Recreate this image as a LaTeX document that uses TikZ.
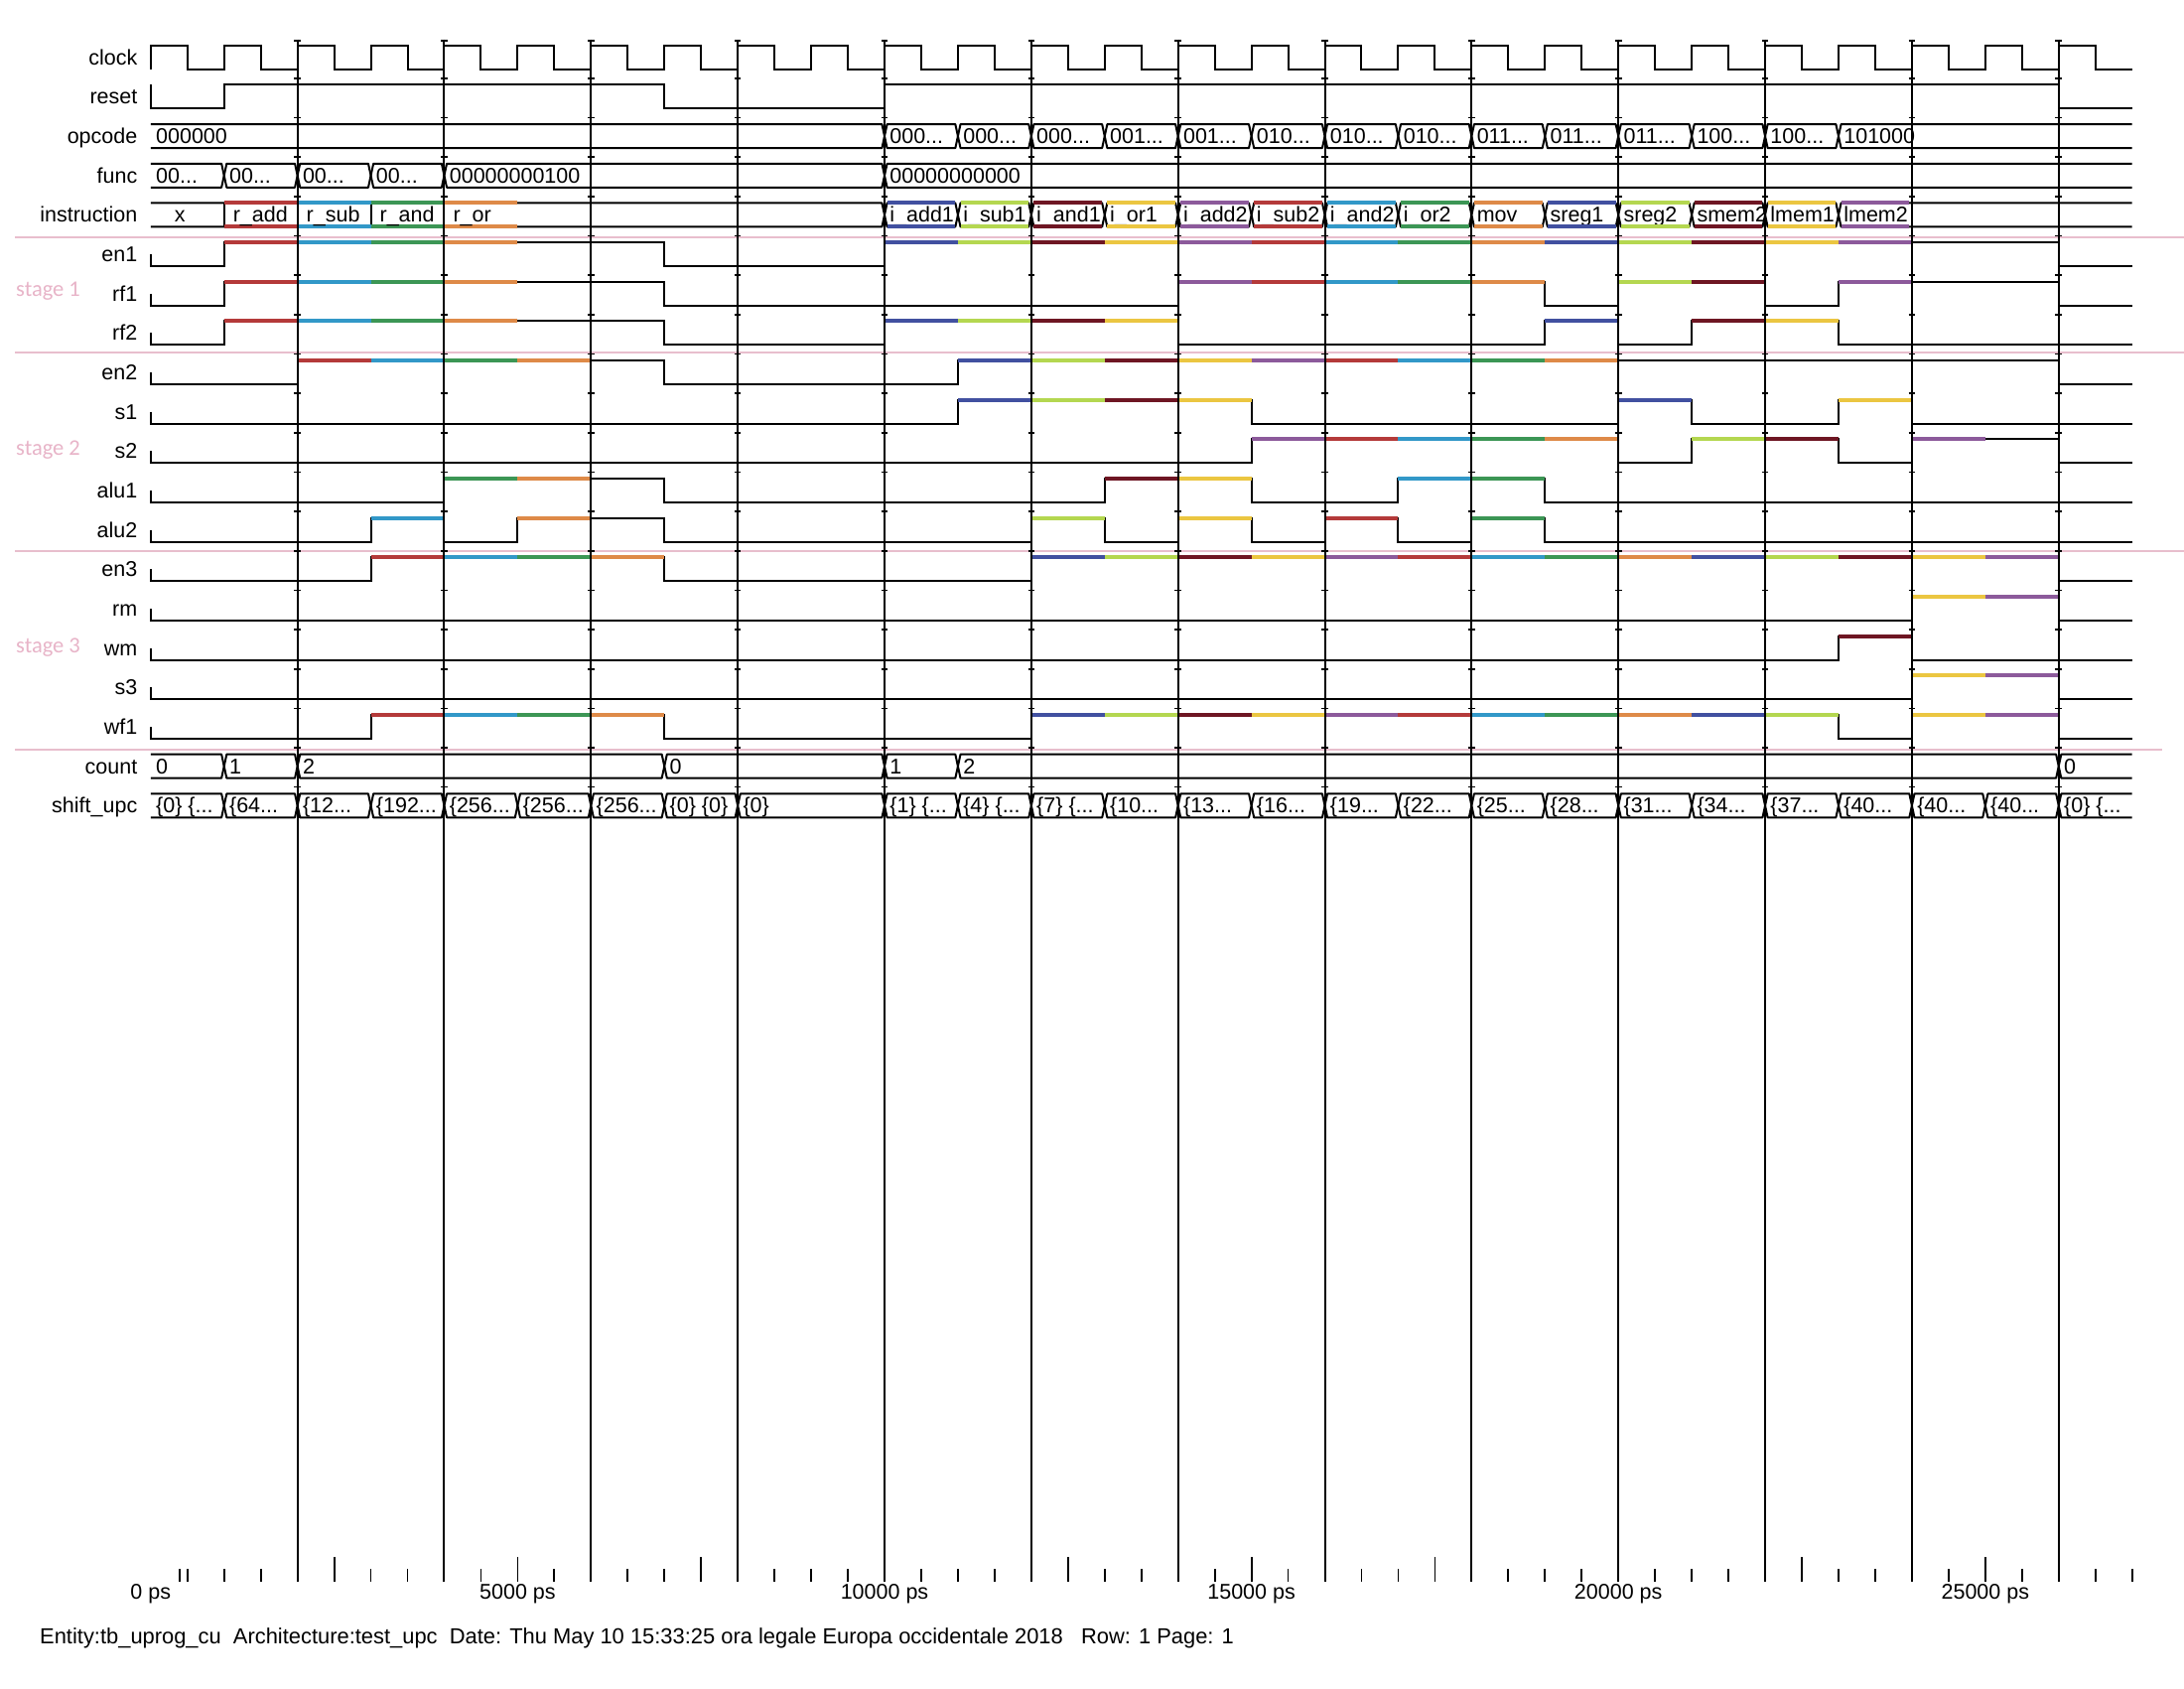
\documentclass[tikz,border=0pt]{standalone}
\usepackage{fontspec}
\setmainfont{Liberation Sans}
\newfontfamily\stgf{Carlito}
\definecolor{cR}{RGB}{180,58,58}
\definecolor{cC}{RGB}{50,152,200}
\definecolor{cG}{RGB}{60,150,85}
\definecolor{cO}{RGB}{222,138,72}
\definecolor{cB}{RGB}{65,80,160}
\definecolor{cL}{RGB}{180,215,80}
\definecolor{cM}{RGB}{110,22,35}
\definecolor{cY}{RGB}{235,198,65}
\definecolor{cP}{RGB}{140,90,155}
\definecolor{pinkline}{RGB}{232,190,205}
\definecolor{pinktext}{RGB}{232,180,200}
\newcounter{vn}
\def\dd{0.035}
\newcommand\el{...}
\newcommand\vnode[2]{\stepcounter{vn}\node[val] (val\arabic{vn}) at (#1,7.5) {#2};}
\newcommand\bfirst[2]{\draw[bus] (0,-12) -- (#1-\dd,-12) -- (#1,0) -- (#1-\dd,12) -- (0,12); \vnode{0.07}{#2}}
\newcommand\blast[2]{\draw[bus] (27,-12) -- (#1+\dd,-12) -- (#1,0) -- (#1+\dd,12) -- (27,12); \vnode{#1+0.07}{#2}}
\newcommand\bmid[3]{\draw[bus] (#1,0) -- (#1+\dd,-12) -- (#2-\dd,-12) -- (#2,0) -- (#2-\dd,12) -- (#1+\dd,12) -- cycle; \vnode{#1+0.07}{#3}}
\newcommand\cols[1]{\foreach \a/\cc in {#1} {\draw[col,color=\cc] (\a,-12) -- (\a+1,-12);}}
\begin{document}
\begin{tikzpicture}[x=1pt,y=-1pt,
  blk/.style={line width=2pt,black,line join=miter},
  bus/.style={line width=2pt,black,line join=round},
  col/.style={line width=4pt},
  grid/.style={line width=2pt,black},
  tick/.style={line width=1.6pt,black},
  axt/.style={line width=1.8pt,black},
  sep/.style={line width=2pt,pinkline},
  lbl/.style={font=\fontsize{21.5}{25}\selectfont,anchor=base east,inner sep=0pt},
  val/.style={font=\fontsize{21.5}{25}\selectfont,anchor=base west,inner sep=0pt},
  axl/.style={font=\fontsize{21.5}{25}\selectfont,anchor=base,inner sep=0pt},
  foot/.style={font=\fontsize{21.9}{25}\selectfont,anchor=base west,inner sep=0pt},
  stg/.style={font=\stgf\fontsize{22.5}{26}\selectfont,text=pinktext,anchor=west,inner sep=0pt},
  row/.style={shift={(0,{57.8+39.66*#1})}}]
\useasboundingbox[fill=white] (0,0) rectangle (2200,1700);

% pink separators
\draw[sep] (15,239.3) -- (2200,239.3);
\draw[sep] (15,354.5) -- (2200,354.5);
\draw[sep] (15,555) -- (2200,555);
\draw[sep] (15,755) -- (2178,755);

% stage labels
\node[stg] (st1) at (16,293) {stage 1};
\node[stg] (st2) at (16,453) {stage 2};
\node[stg] (st3) at (16,652) {stage 3};

% signal labels
\foreach \n/\k in {clock/0,reset/1,opcode/2,func/3,instruction/4,en1/5,rf1/6,rf2/7,en2/8,s1/9,s2/10,alu1/11,alu2/12,en3/13,rm/14,wm/15,s3/16,wf1/17,count/18,shift\_upc/19}
  {\node[lbl] (lab\k) at (138.5,{57.8+39.66*\k+7.5}) {\n};}

\begin{scope}[xshift=151.8pt,x=73.92pt]
% clock
\begin{scope}[row=0]
\draw[blk] (0,12) \foreach \k in {0,...,26} {-- (\k,-12) -- (\k+.5,-12) -- (\k+.5,12) -- (\k+1,12)};
\end{scope}
% reset
\begin{scope}[row=1]
\draw[blk] (0,-12) -- (0,12) -- (1,12) -- (1,-12) -- (7,-12) -- (7,12) -- (10,12) -- (10,-12) -- (26,-12) -- (26,12) -- (27,12);
\end{scope}
% opcode
\begin{scope}[row=2]
\bfirst{10}{000000}
\foreach \a/\b/\s in {10/11/000\el,11/12/000\el,12/13/000\el,13/14/001\el,14/15/001\el,15/16/010\el,16/17/010\el,17/18/010\el,18/19/011\el,19/20/011\el,20/21/011\el,21/22/100\el,22/23/100\el}
  {\bmid{\a}{\b}{\s}}
\blast{23}{101000}
\end{scope}
% func
\begin{scope}[row=3]
\bfirst{1}{00\el}
\bmid{1}{2}{00\el}
\bmid{2}{3}{00\el}
\bmid{3}{4}{00\el}
\bmid{4}{10}{00000000100}
\blast{10}{00000000000}
\end{scope}
% instruction
\begin{scope}[row=4]
\draw[bus] (0,-12) -- (10-\dd,-12) -- (10,0) -- (10-\dd,12) -- (0,12);
\foreach \a in {1,2,3,4} {\draw[blk] (\a,-12) -- (\a,12);}
\foreach \a/\cc in {1/cR,2/cC,3/cG,4/cO}
  {\draw[col,color=\cc] (\a,-12) -- (\a+1,-12) (\a,12) -- (\a+1,12);}
\node[val,anchor=base] (ix) at (0.4,7.5) {x};
\stepcounter{vn}\node[val] (val\arabic{vn}) at (1.12,7.5) {r\_add};
\stepcounter{vn}\node[val] (val\arabic{vn}) at (2.12,7.5) {r\_sub};
\stepcounter{vn}\node[val] (val\arabic{vn}) at (3.12,7.5) {r\_and};
\stepcounter{vn}\node[val] (val\arabic{vn}) at (4.12,7.5) {r\_or};
\foreach \a/\b/\s in {10/11/i\_add1,11/12/i\_sub1,12/13/i\_and1,13/14/i\_or1,14/15/i\_add2,15/16/i\_sub2,16/17/i\_and2,17/18/i\_or2,18/19/mov,19/20/sreg1,20/21/sreg2,21/22/smem2,22/23/lmem1}
  {\bmid{\a}{\b}{\s}}
\blast{23}{lmem2}
\foreach \a/\cc in {10/cB,11/cL,12/cM,13/cY,14/cP,15/cR,16/cC,17/cG,18/cO,19/cB,20/cL,21/cM,22/cY,23/cP}
  {\draw[col,color=\cc] (\a+\dd,-12) -- (\a+1-\dd,-12) (\a+\dd,12) -- (\a+1-\dd,12);}
\end{scope}
% en1
\begin{scope}[row=5]
\draw[blk] (0,0) -- (0,12) -- (1,12) -- (1,-12) -- (7,-12) -- (7,12) -- (10,12) -- (10,-12) -- (26,-12) -- (26,12) -- (27,12);
\cols{1/cR,2/cC,3/cG,4/cO,10/cB,11/cL,12/cM,13/cY,14/cP,15/cR,16/cC,17/cG,18/cO,19/cB,20/cL,21/cM,22/cY,23/cP}
\end{scope}
% rf1
\begin{scope}[row=6]
\draw[blk] (0,0) -- (0,12) -- (1,12) -- (1,-12) -- (7,-12) -- (7,12) -- (14,12) -- (14,-12) -- (19,-12) -- (19,12) -- (20,12) -- (20,-12) -- (22,-12) -- (22,12) -- (23,12) -- (23,-12) -- (26,-12) -- (26,12) -- (27,12);
\cols{1/cR,2/cC,3/cG,4/cO,14/cP,15/cR,16/cC,17/cG,18/cO,20/cL,21/cM,23/cP}
\end{scope}
% rf2
\begin{scope}[row=7]
\draw[blk] (0,0) -- (0,12) -- (1,12) -- (1,-12) -- (7,-12) -- (7,12) -- (10,12) -- (10,-12) -- (14,-12) -- (14,12) -- (19,12) -- (19,-12) -- (20,-12) -- (20,12) -- (21,12) -- (21,-12) -- (23,-12) -- (23,12) -- (27,12);
\cols{1/cR,2/cC,3/cG,4/cO,10/cB,11/cL,12/cM,13/cY,19/cB,21/cM,22/cY}
\end{scope}
% en2
\begin{scope}[row=8]
\draw[blk] (0,0) -- (0,12) -- (2,12) -- (2,-12) -- (7,-12) -- (7,12) -- (11,12) -- (11,-12) -- (26,-12) -- (26,12) -- (27,12);
\cols{2/cR,3/cC,4/cG,5/cO,11/cB,12/cL,13/cM,14/cY,15/cP,16/cR,17/cC,18/cG,19/cO}
\end{scope}
% s1
\begin{scope}[row=9]
\draw[blk] (0,0) -- (0,12) -- (11,12) -- (11,-12) -- (15,-12) -- (15,12) -- (20,12) -- (20,-12) -- (21,-12) -- (21,12) -- (23,12) -- (23,-12) -- (24,-12) -- (24,12) -- (27,12);
\cols{11/cB,12/cL,13/cM,14/cY,20/cB,23/cY}
\end{scope}
% s2
\begin{scope}[row=10]
\draw[blk] (0,0) -- (0,12) -- (15,12) -- (15,-12) -- (20,-12) -- (20,12) -- (21,12) -- (21,-12) -- (23,-12) -- (23,12) -- (24,12) -- (24,-12) -- (26,-12) -- (26,12) -- (27,12);
\cols{15/cP,16/cR,17/cC,18/cG,19/cO,21/cL,22/cM,24/cP}
\end{scope}
% alu1
\begin{scope}[row=11]
\draw[blk] (0,0) -- (0,12) -- (4,12) -- (4,-12) -- (7,-12) -- (7,12) -- (13,12) -- (13,-12) -- (15,-12) -- (15,12) -- (17,12) -- (17,-12) -- (19,-12) -- (19,12) -- (27,12);
\cols{4/cG,5/cO,13/cM,14/cY,17/cC,18/cG}
\end{scope}
% alu2
\begin{scope}[row=12]
\draw[blk] (0,0) -- (0,12) -- (3,12) -- (3,-12) -- (4,-12) -- (4,12) -- (5,12) -- (5,-12) -- (7,-12) -- (7,12) -- (12,12) -- (12,-12) -- (13,-12) -- (13,12) -- (14,12) -- (14,-12) -- (15,-12) -- (15,12) -- (16,12) -- (16,-12) -- (17,-12) -- (17,12) -- (18,12) -- (18,-12) -- (19,-12) -- (19,12) -- (27,12);
\cols{3/cC,5/cO,12/cL,14/cY,16/cR,18/cG}
\end{scope}
% en3
\begin{scope}[row=13]
\draw[blk] (0,0) -- (0,12) -- (3,12) -- (3,-12) -- (7,-12) -- (7,12) -- (12,12) -- (12,-12) -- (26,-12) -- (26,12) -- (27,12);
\cols{3/cR,4/cC,5/cG,6/cO,12/cB,13/cL,14/cM,15/cY,16/cP,17/cR,18/cC,19/cG,20/cO,21/cB,22/cL,23/cM,24/cY,25/cP}
\end{scope}
% rm
\begin{scope}[row=14]
\draw[blk] (0,0) -- (0,12) -- (24,12) -- (24,-12) -- (26,-12) -- (26,12) -- (27,12);
\cols{24/cY,25/cP}
\end{scope}
% wm
\begin{scope}[row=15]
\draw[blk] (0,0) -- (0,12) -- (23,12) -- (23,-12) -- (24,-12) -- (24,12) -- (27,12);
\cols{23/cM}
\end{scope}
% s3
\begin{scope}[row=16]
\draw[blk] (0,0) -- (0,12) -- (24,12) -- (24,-12) -- (26,-12) -- (26,12) -- (27,12);
\cols{24/cY,25/cP}
\end{scope}
% wf1
\begin{scope}[row=17]
\draw[blk] (0,0) -- (0,12) -- (3,12) -- (3,-12) -- (7,-12) -- (7,12) -- (12,12) -- (12,-12) -- (23,-12) -- (23,12) -- (24,12) -- (24,-12) -- (26,-12) -- (26,12) -- (27,12);
\cols{3/cR,4/cC,5/cG,6/cO,12/cB,13/cL,14/cM,15/cY,16/cP,17/cR,18/cC,19/cG,20/cO,21/cB,22/cL,24/cY,25/cP}
\end{scope}
% count
\begin{scope}[row=18]
\bfirst{1}{0}
\bmid{1}{2}{1}
\bmid{2}{7}{2}
\bmid{7}{10}{0}
\bmid{10}{11}{1}
\bmid{11}{26}{2}
\blast{26}{0}
\end{scope}
% shift_upc
\begin{scope}[row=19]
\bfirst{1}{\{0\} \{\el}
\foreach \a/\b/\s in {1/2/{\{64\el},2/3/{\{12\el},3/4/{\{192\el},4/5/{\{256\el},5/6/{\{256\el},6/7/{\{256\el},7/8/{\{0\} \{0\}},8/10/{\{0\}},10/11/{\{1\} \{\el},11/12/{\{4\} \{\el},12/13/{\{7\} \{\el},13/14/{\{10\el},14/15/{\{13\el},15/16/{\{16\el},16/17/{\{19\el},17/18/{\{22\el},18/19/{\{25\el},19/20/{\{28\el},20/21/{\{31\el},21/22/{\{34\el},22/23/{\{37\el},23/24/{\{40\el},24/25/{\{40\el},25/26/{\{40\el}}
  {\bmid{\a}{\b}{\s}}
\blast{26}{\{0\} \{\el}
\end{scope}

% grid lines with ticks
\foreach \g in {2,4,...,26} {
  \draw[grid] (\g,39.5) -- (\g,1593);
  \draw[tick] (\g-0.045,41) -- (\g+0.045,41);
  \foreach \k in {0,...,18} {\draw[tick] (\g-0.045,{78.8+39.66*\k}) -- (\g+0.045,{78.8+39.66*\k});}
}
% time axis
\foreach \t in {0.5,1,...,27} {\draw[axt] (\t,1580) -- (\t,1593);}
\foreach \t in {2.5,5,...,25} {\draw[axt] (\t,1568) -- (\t,1593);}
\draw[axt] (0.39,1580) -- (0.39,1593);
\foreach \t/\s in {0/0 ps,5/5000 ps,10/10000 ps,15/15000 ps,20/20000 ps,25/25000 ps}
  {\node[axl] (ax\t) at (\t,1610) {\s};}
\end{scope}

% footer
\node[foot] (footer) at (40,1655) {Entity:tb\_uprog\_cu\ \ Architecture:test\_upc\ \ Date: Thu May 10 15:33:25 ora legale Europa occidentale 2018\ \ \ Row: 1 Page: 1};
\end{tikzpicture}
\end{document}
